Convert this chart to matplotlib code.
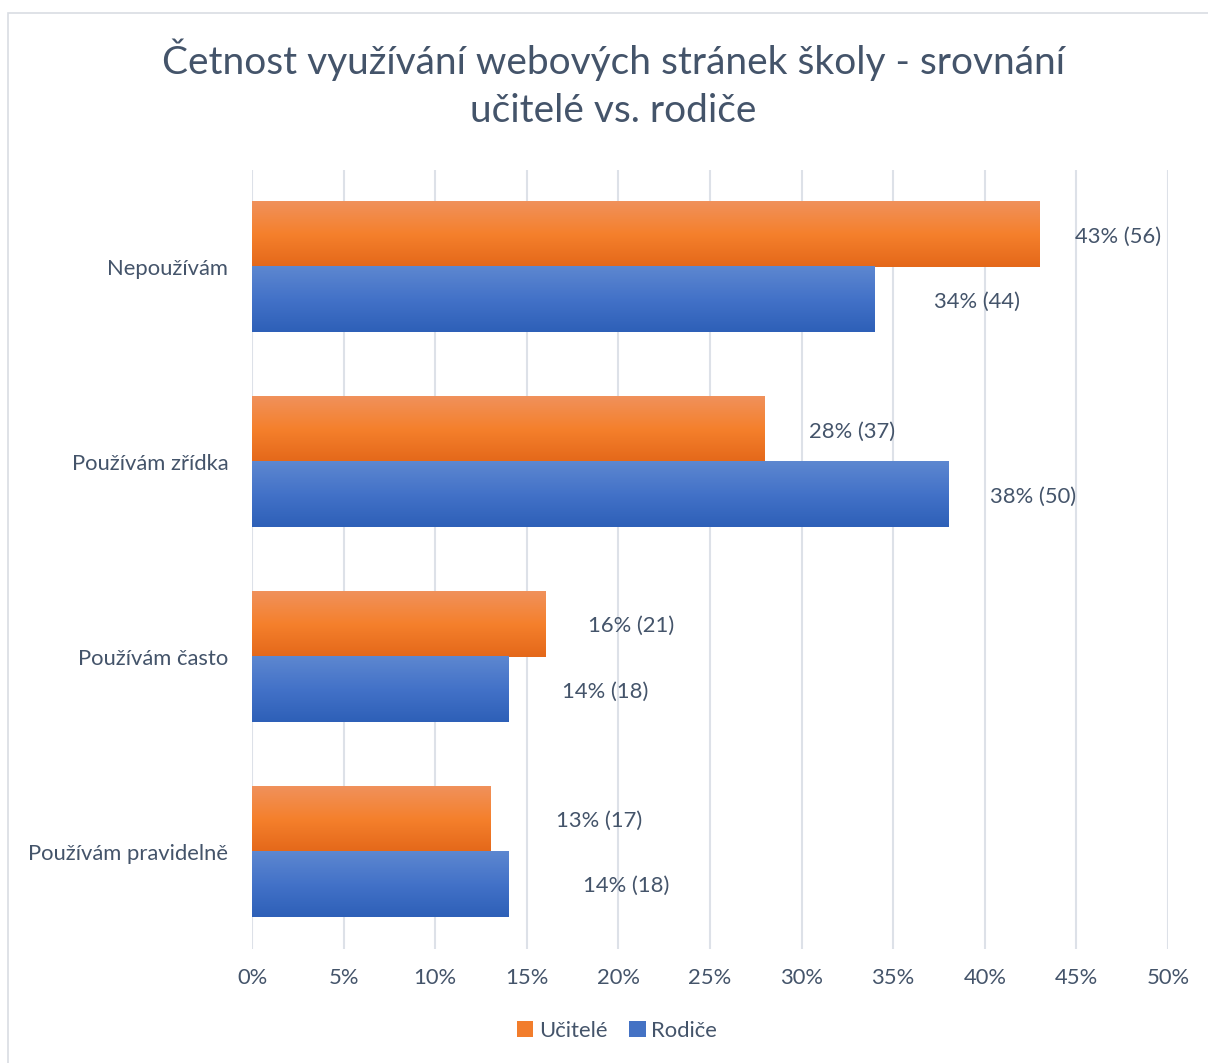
import numpy as np
import matplotlib
matplotlib.use("Agg")
import matplotlib.pyplot as plt
from matplotlib.colors import LinearSegmentedColormap
from matplotlib.patches import Rectangle, Patch

# data
categories = ["Nepoužívám", "Používám zřídka", "Používám často", "Používám pravidelně"]
ucitele_pct = [43, 28, 16, 13]
ucitele_n = [56, 37, 21, 17]
rodice_pct = [34, 38, 14, 14]
rodice_n = [44, 50, 18, 18]
series_names = ["Učitelé", "Rodiče"]
xticks = [0, 5, 10, 15, 20, 25, 30, 35, 40, 45, 50]

# manual label offsets (pixels), like in the original sheet
off_u = [35, 44, 43, 66]
off_r = [59, 42, 54, 75]

plt.rcParams['font.family'] = ['Lato', 'DejaVu Sans']
text_col = "#44546A"
fs = 15.8

fig = plt.figure(figsize=(12.08, 10.63), dpi=100)
ax = fig.add_axes([252/1208, 1 - 949/1063, (1168-252)/1208, (949-170)/1063])

orange = LinearSegmentedColormap.from_list("o", ["#F0915B", "#F5802C", "#E4681A"])
blue = LinearSegmentedColormap.from_list("b", ["#5D87D0", "#4372C8", "#2E60B8"])

y = np.arange(len(categories))
h = 0.334
bu = ax.barh(y - h/2, ucitele_pct, height=h, color="#F27D2C", zorder=2)
br = ax.barh(y + h/2, rodice_pct, height=h, color="#4472C4", zorder=2)

grad = np.linspace(0, 1, 64).reshape(-1, 1)
for bars, cm in ((bu, orange), (br, blue)):
    for p in bars:
        x0, y0, w, hh = p.get_x(), p.get_y(), p.get_width(), p.get_height()
        ax.imshow(grad, cmap=cm, aspect="auto", origin="upper",
                  extent=(x0, x0 + w, y0 + hh, y0), zorder=3)
        p.set_visible(False)

for i in range(len(categories)):
    ax.annotate(f"{ucitele_pct[i]}% ({ucitele_n[i]})", (ucitele_pct[i], y[i] - h/2),
                xytext=(off_u[i], -2), textcoords="offset pixels",
                va="center", ha="left", fontsize=fs, color=text_col)
    ax.annotate(f"{rodice_pct[i]}% ({rodice_n[i]})", (rodice_pct[i], y[i] + h/2),
                xytext=(off_r[i], -2), textcoords="offset pixels",
                va="center", ha="left", fontsize=fs, color=text_col)

ax.set_xlim(0, 50)
ax.set_ylim(3.5, -0.5)
ax.set_xticks(xticks)
ax.set_xticklabels([f"{t}%" for t in xticks], fontsize=fs, color=text_col)
ax.set_yticks(y)
ax.set_yticklabels(categories, fontsize=fs, color=text_col)
ax.tick_params(axis="both", length=0)
ax.tick_params(axis="x", pad=14)
ax.tick_params(axis="y", pad=17)
ax.grid(axis="x", color="#DDE1E8", linewidth=1.5, zorder=0)
for s in ax.spines.values():
    s.set_visible(False)
ax.set_axisbelow(True)

fig.text(613/1208, 1 - 60/1063, "Četnost využívání webových stránek školy - srovnání",
         ha="center", va="center", fontsize=28, color=text_col)
fig.text(613/1208, 1 - 111/1063, "učitelé vs. rodiče",
         ha="center", va="center", fontsize=28, color=text_col)

handles = [Patch(facecolor="#F27D2C"), Patch(facecolor="#4472C4")]
leg = fig.legend(handles, series_names, loc="center", bbox_to_anchor=(617/1208, 1 - 1031/1063),
                 ncol=2, frameon=False, fontsize=fs, handlelength=0.75, handleheight=0.75,
                 handletextpad=0.25, columnspacing=1.0)
for t in leg.get_texts():
    t.set_color(text_col)

fig.patches.append(Rectangle((8/1208, -0.01), 1.02, 1 - 13/1063 + 0.01, transform=fig.transFigure,
                             fill=False, edgecolor="#D9DDE3", linewidth=1.2))

fig.savefig("out.png", dpi=100)
